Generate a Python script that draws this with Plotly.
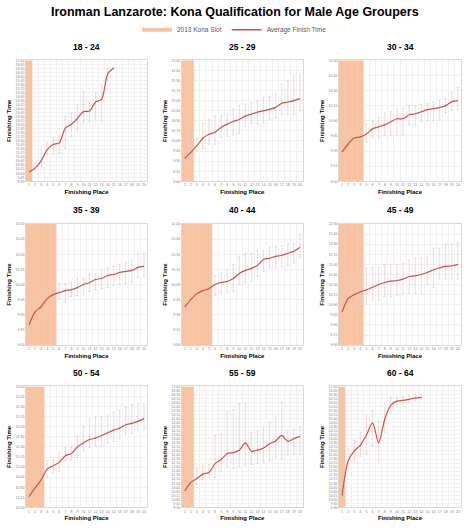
import plotly.graph_objects as go

# ---------------- data ----------------
groups = ["18 - 24", "25 - 29", "30 - 34", "35 - 39", "40 - 44",
          "45 - 49", "50 - 54", "55 - 59", "60 - 64"]
kona_slots = [1, 2, 4, 5, 5, 4, 3, 2, 1]
axis_min = ["9:30", "9:00", "9:00", "9:00", "9:00", "9:00", "10:00", "9:30", "9:30"]
axis_max = ["17:00", "12:00", "11:00", "11:00", "11:00", "12:00", "13:00", "17:00", "17:00"]
place_ticks = list(range(1, 21))

avg_18_24 = ["10:05", "10:19", "10:46", "11:28", "11:47", "11:53", "12:48", "13:02",
             "13:24", "13:49", "13:51", "14:25", "14:35", "16:09", "16:31"]
fast_18_24 = ["9:47", "10:09", "10:27", "11:08", "11:12", "11:16", "11:32", "12:17",
              "12:39", "13:06", "13:12", "13:18", "13:14", "15:44", "16:31"]
slow_18_24 = ["10:24", "10:36", "11:28", "11:55", "12:11", "12:23", "13:30", "13:42",
              "14:16", "15:04", "14:25", "14:59", "15:24", "16:30", "16:31"]

avg_25_29 = ["9:34", "9:43", "9:53", "10:04", "10:10", "10:13", "10:20", "10:25", "10:29", "10:32",
             "10:37", "10:40", "10:43", "10:45", "10:47", "10:50", "10:56", "10:58", "11:00", "11:03"]
fast_25_29 = ["9:25", "9:25", "9:44", "9:49", "9:55", "9:55", "10:06", "10:07", "10:09", "10:11",
              "10:22", "10:26", "10:26", "10:27", "10:32", "10:34", "10:39", "10:39", "10:39", "10:45"]
slow_25_29 = ["9:45", "10:04", "10:04", "10:26", "10:32", "10:37", "10:38", "10:39", "10:48", "10:53",
              "10:55", "10:57", "11:00", "11:05", "11:06", "11:10", "11:24", "11:29", "11:38", "11:38"]

avg_30_34 = ["9:29", "9:37", "9:43", "9:44", "9:47", "9:52", "9:54", "9:56", "9:59", "10:02",
             "10:02", "10:06", "10:07", "10:09", "10:11", "10:12", "10:13", "10:15", "10:19", "10:20"]
fast_30_34 = ["9:21", "9:28", "9:37", "9:42", "9:39", "9:43", "9:43", "9:45", "9:46", "9:46",
              "9:46", "9:56", "9:56", "9:59", "10:00", "10:00", "10:01", "10:08", "10:10", "10:11"]
slow_30_34 = ["9:44", "9:48", "9:49", "9:51", "9:57", "10:00", "10:03", "10:08", "10:09", "10:11",
              "10:13", "10:15", "10:15", "10:16", "10:17", "10:19", "10:20", "10:22", "10:28", "10:33"]

avg_35_39 = ["9:20", "9:33", "9:38", "9:46", "9:50", "9:52", "9:54", "9:55", "9:57", "10:00",
             "10:02", "10:05", "10:06", "10:09", "10:10", "10:12", "10:13", "10:14", "10:17", "10:18"]
fast_35_39 = ["9:02", "9:22", "9:30", "9:36", "9:36", "9:46", "9:43", "9:48", "9:49", "9:50",
              "9:53", "9:55", "9:56", "9:57", "9:59", "10:00", "10:01", "10:02", "10:07", "10:08"]
slow_35_39 = ["9:36", "9:45", "9:46", "9:56", "10:01", "10:01", "10:01", "10:02", "10:06", "10:06",
              "10:10", "10:11", "10:14", "10:17", "10:18", "10:20", "10:22", "10:24", "10:31", "10:31"]

avg_40_44 = ["9:38", "9:45", "9:51", "9:54", "9:56", "10:00", "10:02", "10:03", "10:06", "10:11",
             "10:14", "10:16", "10:19", "10:25", "10:26", "10:28", "10:29", "10:31", "10:33", "10:37"]
fast_40_44 = ["9:27", "9:30", "9:41", "9:42", "9:43", "9:49", "9:51", "9:52", "9:53", "10:00",
              "10:02", "10:03", "10:08", "10:13", "10:17", "10:17", "10:18", "10:19", "10:21", "10:27"]
slow_40_44 = ["9:51", "9:54", "9:57", "9:59", "10:05", "10:09", "10:11", "10:15", "10:20", "10:28",
              "10:31", "10:31", "10:34", "10:34", "10:37", "10:38", "10:39", "10:40", "10:41", "10:50"]

avg_45_49 = ["9:49", "10:09", "10:15", "10:19", "10:22", "10:26", "10:30", "10:33", "10:35", "10:36",
             "10:38", "10:42", "10:43", "10:45", "10:48", "10:52", "10:55", "10:57", "10:58", "11:00"]
fast_45_49 = ["9:31", "9:48", "9:48", "9:56", "10:01", "10:06", "10:06", "10:12", "10:12", "10:14",
              "10:17", "10:17", "10:17", "10:17", "10:30", "10:26", "10:38", "10:38", "10:38", "10:38"]
slow_45_49 = ["10:17", "10:40", "10:51", "10:54", "10:55", "10:55", "10:56", "11:00", "11:00", "11:00",
              "11:01", "11:06", "11:09", "11:10", "11:11", "11:24", "11:24", "11:30", "11:30", "11:32"]

avg_50_54 = ["10:16", "10:29", "10:41", "10:57", "11:02", "11:07", "11:17", "11:20", "11:30", "11:36",
             "11:41", "11:43", "11:47", "11:51", "11:55", "11:58", "12:03", "12:05", "12:08", "12:12"]
fast_50_54 = ["10:05", "10:20", "10:30", "10:44", "10:51", "10:54", "11:09", "11:10", "11:14", "11:24",
              "11:29", "11:31", "11:33", "11:36", "11:38", "11:42", "11:48", "11:50", "11:55", "11:56"]
slow_50_54 = ["10:34", "11:00", "11:00", "11:10", "11:11", "11:22", "11:30", "11:30", "11:46", "12:00",
              "12:12", "12:14", "12:15", "12:16", "12:22", "12:24", "12:29", "12:33", "12:34", "12:34"]

avg_55_59 = ["10:31", "11:03", "11:18", "11:34", "11:40", "12:13", "12:28", "12:50", "12:54", "13:03",
             "13:30", "12:59", "13:03", "13:11", "13:27", "13:37", "13:58", "13:36", "13:46", "13:54"]
fast_55_59 = ["9:34", "10:44", "10:56", "11:12", "11:21", "11:21", "11:45", "12:01", "11:55", "12:01",
              "12:05", "12:10", "12:14", "12:20", "12:22", "12:34", "12:32", "12:44", "12:50", "12:47"]
slow_55_59 = ["11:03", "11:18", "11:53", "12:05", "12:10", "13:56", "14:04", "15:24", "15:33", "15:55",
              "15:58", "14:08", "14:13", "14:29", "14:45", "15:09", "16:01", "14:16", "14:20", "14:29"]

avg_60_64 = ["10:14", "12:23", "13:00", "13:22", "13:59", "14:44", "13:30", "14:58", "15:50", "16:05",
             "16:08", "16:12", "16:16", "16:19"]
fast_60_64 = ["9:45", "11:50", "12:20", "12:40", "12:50", "13:20", "12:20", "14:10", "15:20", "15:50",
              "15:55", "16:00", "16:05", "16:10"]
slow_60_64 = ["11:10", "13:10", "13:40", "14:10", "15:10", "15:30", "14:50", "15:40", "16:20", "16:20",
              "16:22", "16:25", "16:28", "16:30"]

avg_times = [avg_18_24, avg_25_29, avg_30_34, avg_35_39, avg_40_44,
             avg_45_49, avg_50_54, avg_55_59, avg_60_64]
fast_times = [fast_18_24, fast_25_29, fast_30_34, fast_35_39, fast_40_44,
              fast_45_49, fast_50_54, fast_55_59, fast_60_64]
slow_times = [slow_18_24, slow_25_29, slow_30_34, slow_35_39, slow_40_44,
              slow_45_49, slow_50_54, slow_55_59, slow_60_64]


def to_min(t):
    h, m = t.split(":")
    return int(h) * 60 + int(m)


def fmt(m):
    return f"{m // 60}:{m % 60:02d}"


# ---------------- layout geometry ----------------
W, H = 469, 530
col_px = [(26, 147), (181.7, 303), (339, 461)]
row_px = [(58.7, 180.7), (223.7, 345.7), (387.3, 509.3)]
title_px = [45, 210, 374]


def px_x(v):
    return v / W


def px_y(v):
    return 1 - v / H


FONT = "Liberation Sans, Arial, sans-serif"
ORANGE = "#F8C3A0"
RED = "#C9534F"
ERR = "#E8CACA"
GRID = "#F0F0F0"

fig = go.Figure()
layout = dict(
    width=W, height=H, margin=dict(l=0, r=0, t=0, b=0),
    paper_bgcolor="white", plot_bgcolor="white",
    font=dict(family=FONT, color="#333333"),
    showlegend=True,
    legend=dict(orientation="h", x=0.5, xanchor="center", y=px_y(28), yanchor="middle",
                font=dict(size=6.5, color="#595959"), itemwidth=30,
                bgcolor="rgba(0,0,0,0)"),
    annotations=[dict(
        text="Ironman Lanzarote: Kona Qualification for Male Age Groupers",
        xref="paper", yref="paper", x=px_x(234.5), y=px_y(10),
        xanchor="center", yanchor="middle", showarrow=False,
        font=dict(family=FONT, size=12.5, color="black", weight="bold"))],
)

for i, g in enumerate(groups):
    r, c = divmod(i, 3)
    n = i + 1
    xa = "x" if n == 1 else f"x{n}"
    ya = "y" if n == 1 else f"y{n}"
    ymin = to_min(axis_min[i])
    ymax = to_min(axis_max[i])
    avg = [to_min(t) for t in avg_times[i]]
    fast = [to_min(t) for t in fast_times[i]]
    slow = [to_min(t) for t in slow_times[i]]
    pl = list(range(1, len(avg) + 1))

    # Kona slot band
    slots = list(range(1, kona_slots[i] + 1))
    fig.add_trace(go.Bar(x=slots, y=[ymax - ymin] * len(slots), base=ymin, width=1,
                         marker=dict(color=ORANGE, line=dict(width=0)),
                         xaxis=xa, yaxis=ya, showlegend=False, hoverinfo="skip"))
    # Average finish time with range bars
    fig.add_trace(go.Scatter(x=pl, y=avg, mode="lines",
                             line=dict(color=RED, width=1.2, shape="spline", smoothing=0.8),
                             error_y=dict(type="data", symmetric=False,
                                          array=[s - a for s, a in zip(slow, avg)],
                                          arrayminus=[a - f for a, f in zip(avg, fast)],
                                          color=ERR, thickness=0.7, width=1.2),
                             xaxis=xa, yaxis=ya, showlegend=False))

    x0, x1 = col_px[c]
    t0, t1 = row_px[r]
    yt = list(range(ymin, ymax + 1, 15))
    layout["xaxis" if n == 1 else f"xaxis{n}"] = dict(
        domain=[px_x(x0), px_x(x1)], anchor=ya, range=[0.5, 20.5],
        tickmode="array", tickvals=place_ticks, ticktext=[str(p) for p in place_ticks],
        tickfont=dict(size=3.6, color="#7F7F7F"), ticks="", showgrid=False,
        minor=dict(tick0=0.5, dtick=1, showgrid=True, gridcolor=GRID, gridwidth=0.6),
        showline=True, linecolor="#D9D9D9", linewidth=0.6, mirror=True, zeroline=False,
        title=dict(text="Finishing Place", standoff=3,
                   font=dict(size=6, color="black", weight="bold")),
        fixedrange=True,
    )
    layout["yaxis" if n == 1 else f"yaxis{n}"] = dict(
        domain=[px_y(t1), px_y(t0)], anchor=xa, range=[ymin, ymax],
        tickmode="array", tickvals=yt, ticktext=[fmt(v) for v in yt],
        tickfont=dict(size=3.6, color="#7F7F7F"), ticks="",
        showgrid=True, gridcolor=GRID, gridwidth=0.6,
        showline=True, linecolor="#D9D9D9", linewidth=0.6, mirror=True, zeroline=False,
        title=dict(text="Finishing Time", standoff=3,
                   font=dict(size=6, color="black", weight="bold")),
        fixedrange=True,
    )
    layout["annotations"].append(dict(
        text=g, xref="paper", yref="paper", x=px_x((x0 + x1) / 2), y=px_y(title_px[r]),
        xanchor="center", yanchor="middle", showarrow=False,
        font=dict(family=FONT, size=8.5, color="black", weight="bold")))

# legend entries
fig.add_trace(go.Scatter(x=[None], y=[None], mode="lines", name="2013 Kona Slot",
                         line=dict(color=ORANGE, width=4)))
fig.add_trace(go.Scatter(x=[None], y=[None], mode="lines", name="Average Finish Time",
                         line=dict(color=RED, width=1.5)))

fig.update_layout(**layout)
fig.write_html("out.html", config={"displayModeBar": False},
               post_script="document.body.style.margin='0';document.body.style.padding='0';")
